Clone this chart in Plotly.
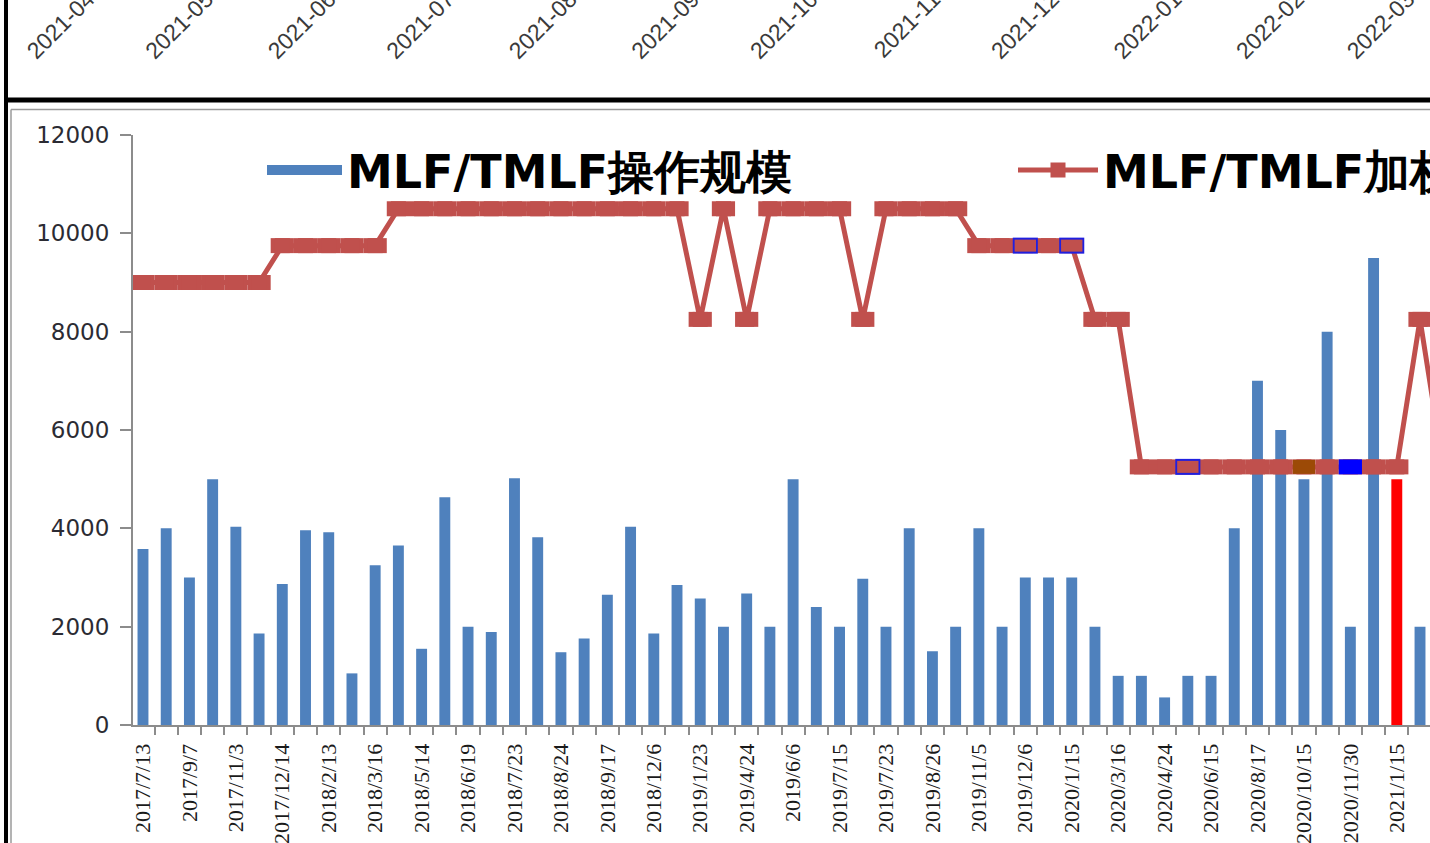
import plotly.graph_objects as go

# MLF/TMLF operations: one entry per operation date
dates = [
    "2017/7/13", "2017/8/16", "2017/9/7", "2017/10/17", "2017/11/3", "2017/11/16",
    "2017/12/14", "2018/1/16", "2018/2/13", "2018/3/6", "2018/3/16", "2018/4/17",
    "2018/5/14", "2018/6/6", "2018/6/19", "2018/7/9", "2018/7/23", "2018/8/6",
    "2018/8/24", "2018/9/10", "2018/9/17", "2018/11/9", "2018/12/6", "2019/1/15",
    "2019/1/23", "2019/4/17", "2019/4/24", "2019/5/17", "2019/6/6", "2019/6/17",
    "2019/7/15", "2019/7/19", "2019/7/23", "2019/8/16", "2019/8/26", "2019/9/17",
    "2019/11/5", "2019/11/18", "2019/12/6", "2019/12/16", "2020/1/15", "2020/2/17",
    "2020/3/16", "2020/4/15", "2020/4/24", "2020/5/15", "2020/6/15", "2020/7/15",
    "2020/8/17", "2020/9/15", "2020/10/15", "2020/11/16", "2020/11/30", "2020/12/15",
    "2021/1/15", "2021/2/8", "2021/2/24",
]

# operation size (100 million yuan)
volumes = [
    3580, 4000, 3000, 5000, 4030, 1860,
    2870, 3960, 3920, 1050, 3250, 3650,
    1550, 4630, 2000, 1890, 5020, 3820,
    1480, 1760, 2650, 4030, 1860, 2850,
    2575, 2000, 2674, 2000, 5000, 2400,
    2000, 2977, 2000, 4000, 1500, 2000,
    4000, 2000, 3000, 3000, 3000, 2000,
    1000, 1000, 561, 1000, 1000, 4000,
    7000, 6000, 5000, 8000, 2000, 9500,
    5000, 2000, None,
]

# weighted rate (%)
rates = [
    3.20, 3.20, 3.20, 3.20, 3.20, 3.20,
    3.25, 3.25, 3.25, 3.25, 3.25, 3.30,
    3.30, 3.30, 3.30, 3.30, 3.30, 3.30,
    3.30, 3.30, 3.30, 3.30, 3.30, 3.30,
    3.15, 3.30, 3.15, 3.30, 3.30, 3.30,
    3.30, 3.15, 3.30, 3.30, 3.30, 3.30,
    3.25, 3.25, 3.25, 3.25, 3.25, 3.15,
    3.15, 2.95, 2.95, 2.95, 2.95, 2.95,
    2.95, 2.95, 2.95, 2.95, 2.95, 2.95,
    2.95, 3.15, 2.95,
]

tick_labels = [
    "2017/7/13", "2017/9/7", "2017/11/3", "2017/12/14", "2018/2/13", "2018/3/16",
    "2018/5/14", "2018/6/19", "2018/7/23", "2018/8/24", "2018/9/17", "2018/12/6",
    "2019/1/23", "2019/4/24", "2019/6/6", "2019/7/15", "2019/7/23", "2019/8/26",
    "2019/11/5", "2019/12/6", "2020/1/15", "2020/3/16", "2020/4/24", "2020/6/15",
    "2020/8/17", "2020/10/15", "2020/11/30", "2021/1/15",
]

# highlighted points
outline_pts = ["2019/12/6", "2020/1/15", "2020/5/15"]
brown_pts = ["2020/10/15"]
blue_pts = ["2020/11/30"]
red_bar = "2021/1/15"

# axis labels of the chart cropped at the top of the screenshot
strip_months = ["2021-04", "2021-05", "2021-06", "2021-07", "2021-08", "2021-09",
                "2021-10", "2021-11", "2021-12", "2022-01", "2022-02", "2022-03"]

BLUE = "#4F81BD"
RED = "#C0504D"

pos = list(range(len(dates)))  # category slots
slot = dict(zip(dates, pos))
rate_of = dict(zip(dates, rates))


def pts(keys):
    return [slot[k] for k in keys], [rate_of[k] for k in keys]


fig = go.Figure()

fig.add_trace(go.Bar(
    x=pos, y=volumes, name="MLF/TMLF操作规模", showlegend=False,
    marker=dict(color=["#FF0000" if d == red_bar else BLUE for d in dates], line_width=0),
    hovertext=dates,
))
# legend key for the bars
fig.add_trace(go.Scatter(
    x=[None], y=[None], name="MLF/TMLF操作规模", mode="lines",
    line=dict(color=BLUE, width=25), legend="legend",
))

fig.add_trace(go.Scatter(
    x=pos, y=rates, yaxis="y2", name="MLF/TMLF加权利率", legend="legend2",
    mode="lines+markers",
    line=dict(color=RED, width=5),
    marker=dict(symbol="square", size=15, color=RED),
    error_x=dict(type="constant", value=0.5, thickness=15, width=0, color=RED),
    hovertext=dates,
))

# blue framed points
ox, oy = pts(outline_pts)
fig.add_trace(go.Scatter(
    x=ox, y=oy, yaxis="y2", mode="markers", marker=dict(size=1, opacity=0), showlegend=False,
    error_x=dict(type="constant", value=0.54, thickness=16, width=0, color="#1F1FE0"),
))
fig.add_trace(go.Scatter(
    x=ox, y=oy, yaxis="y2", mode="markers", marker=dict(size=1, opacity=0), showlegend=False,
    error_x=dict(type="constant", value=0.46, thickness=12, width=0, color=RED),
))
bx, by = pts(brown_pts)
fig.add_trace(go.Scatter(
    x=bx, y=by, yaxis="y2", mode="markers", marker=dict(size=1, opacity=0), showlegend=False,
    error_x=dict(type="constant", value=0.48, thickness=14, width=0, color="#9C4A06"),
))
ux, uy = pts(blue_pts)
fig.add_trace(go.Scatter(
    x=ux, y=uy, yaxis="y2", mode="markers", marker=dict(size=1, opacity=0), showlegend=False,
    error_x=dict(type="constant", value=0.5, thickness=15, width=0, color="#0000FF"),
))

# cropped chart above
fig.add_trace(go.Scatter(
    x=[m + "-01" for m in strip_months], y=[0] * len(strip_months),
    xaxis="x3", yaxis="y3", mode="markers", marker=dict(opacity=0),
    showlegend=False, hoverinfo="skip",
))

W = 1430
H = 843
B = 118
ph = H - B

legend_font = dict(family="DejaVu Sans", size=46, color="#000000", weight="bold")

fig.update_layout(
    width=W, height=H,
    margin=dict(l=0, r=0, t=0, b=B, autoexpand=False),
    paper_bgcolor="white", plot_bgcolor="white",
    template="none",
    bargap=0.53,
    showlegend=True,
    legend=dict(
        orientation="h", xref="container", yref="container",
        x=262 / W, y=1 - 170 / H, xanchor="left", yanchor="middle",
        font=legend_font, itemwidth=75, bgcolor="rgba(0,0,0,0)",
    ),
    legend2=dict(
        orientation="h", xref="container", yref="container",
        x=1013 / W, y=1 - 170 / H, xanchor="left", yanchor="middle",
        font=legend_font, itemwidth=80, bgcolor="rgba(0,0,0,0)",
    ),
    xaxis=dict(
        domain=[133 / W, 1], type="linear",
        range=[-0.43, 55.43],
        tickmode="array", tickvals=[slot[t] for t in tick_labels], ticktext=tick_labels,
        ticks="",
        minor=dict(tick0=-0.5, dtick=1, ticks="outside", ticklen=8, tickwidth=2,
                   tickcolor="#8c8c8c", showgrid=False),
        showline=True, linecolor="#8c8c8c", linewidth=2,
        tickangle=-90,
        tickfont=dict(family="Liberation Sans Narrow", size=22, color="#1a1a1a"),
        ticklabelstandoff=8,
        showgrid=False, zeroline=False, automargin=False, anchor="y",
    ),
    yaxis=dict(
        domain=[0, (725 - 135) / ph], range=[0, 12000], dtick=2000, tickformat="d",
        ticks="outside", ticklen=11, tickwidth=2, tickcolor="#8c8c8c",
        showline=True, linecolor="#8c8c8c", linewidth=2,
        tickfont=dict(family="DejaVu Sans", size=23, color="#2b2b33"),
        ticklabelstandoff=6,
        showgrid=False, zeroline=False, automargin=False, anchor="x",
    ),
    yaxis2=dict(overlaying="y", range=[2.6, 3.4], visible=False, anchor="x"),
    xaxis3=dict(
        type="date", domain=[0, 1],
        range=["2021-03-09 17:30", "2022-03-06 13:40"],
        tickmode="array", tickvals=[m + "-01" for m in strip_months], ticktext=strip_months,
        anchor="free", position=1, side="bottom", tickangle=-45,
        ticks="", showline=False, showgrid=False, zeroline=False,
        ticklabelstandoff=-20,
        tickfont=dict(family="Liberation Sans", size=23, color="#3a3a3a"),
        automargin=False,
    ),
    yaxis3=dict(domain=[0.9, 1], visible=False, anchor="x3"),
)


# screenshot frame
def py(p):
    return (ph - p) / ph


frame = [
    dict(x0=6 / W, x1=6 / W, y0=py(0), y1=py(H), color="#000000", width=4),
    dict(x0=6 / W, x1=1, y0=py(100), y1=py(100), color="#000000", width=5),
    dict(x0=11 / W, x1=1, y0=py(109.5), y1=py(109.5), color="#9a9a9a", width=1.5),
    dict(x0=11 / W, x1=11 / W, y0=py(109.5), y1=py(H), color="#9a9a9a", width=1.5),
]
for f in frame:
    fig.add_shape(type="line", xref="paper", yref="paper",
                  x0=f["x0"], x1=f["x1"], y0=f["y0"], y1=f["y1"],
                  line=dict(color=f["color"], width=f["width"]))

fig.write_html("out.html", config={"displayModeBar": False},
               post_script="document.body.style.margin='0';")
